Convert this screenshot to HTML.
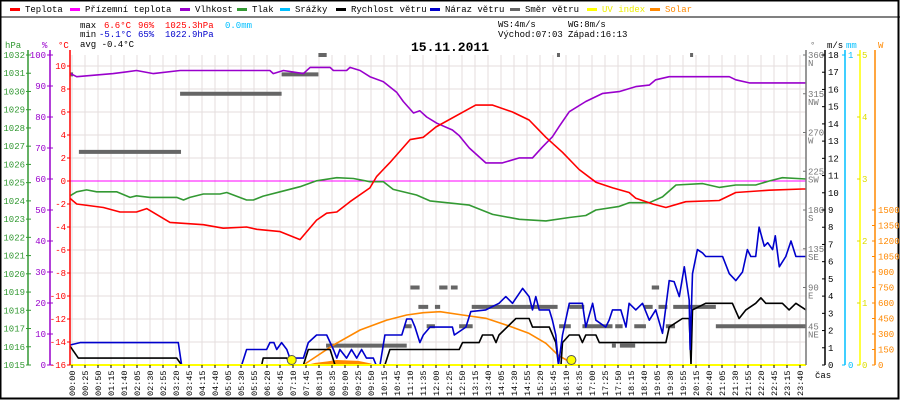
<!DOCTYPE html>
<html><head><meta charset="utf-8"><style>
html,body{margin:0;padding:0;background:#fff;}
svg{display:block;font-family:"Liberation Mono","DejaVu Sans Mono",monospace;}
</style></head><body>
<svg id="chart" width="900" height="400" viewBox="0 0 900 400" xmlns="http://www.w3.org/2000/svg">
<rect x="0.5" y="0.5" width="898" height="398" fill="#fff" stroke="#000" stroke-width="2"/>
<line x1="0" y1="17" x2="900" y2="17" stroke="#000" stroke-width="1"/>
<g id="legend" font-size="9"></g>
<g font-size="9">
<text x="80" y="28">max</text>
<text x="104" y="28" fill="#f00">6.6°C</text>
<text x="138" y="28" fill="#f00">96%</text>
<text x="165" y="28" fill="#f00">1025.3hPa</text>
<text x="225" y="28" fill="#00bfff">0.0mm</text>
<text x="80" y="37">min</text>
<text x="99" y="37" fill="#00c">-5.1°C</text>
<text x="138" y="37" fill="#00c">65%</text>
<text x="165" y="37" fill="#00c">1022.9hPa</text>
<text x="80" y="47">avg -0.4°C</text>
<text x="498" y="27">WS:4m/s</text>
<text x="568" y="27">WG:8m/s</text>
<text x="498" y="37">Východ:07:03</text>
<text x="568" y="37">Západ:16:13</text>
</g>
<text x="450" y="51" text-anchor="middle" font-size="13" font-weight="bold">15.11.2011</text>
<g id="grid"></g>
<g id="series"></g>
<g id="axes" font-size="9"></g>
</svg>
<script>
// ---- data ----
const xLabels=["00:00","00:25","00:50","01:15","01:40","02:05","02:30","02:55","03:20","03:45","04:15","04:40","05:05","05:30","05:55","06:20","06:45","07:10","07:45","08:10","08:35","09:00","09:25","09:50","10:15","10:45","11:10","11:35","12:00","12:25","12:50","13:15","13:40","14:05","14:30","14:55","15:20","15:45","16:10","16:35","17:00","17:25","17:50","18:15","18:40","19:05","19:30","19:55","20:15","20:40","21:05","21:30","21:55","22:20","22:45","23:15","23:40"];
const tempH=[0,.22,1.09,1.63,2.17,2.5,3.26,4.35,5.0,5.76,6.09,6.85,7.5,8.04,8.37,8.7,9.13,9.78,10.0,10.43,11.09,11.52,11.93,13.02,13.23,13.78,14.43,14.97,15.52,16.06,16.6,17.15,17.7,18.23,18.45,19.0,19.43,20.08,21.17,21.71,22.8,23.89,24];
const tempV=[-1.5,-2,-2.3,-2.7,-2.7,-2.4,-3.6,-3.8,-4.1,-4.0,-4.2,-4.4,-5.1,-3.4,-2.8,-2.7,-1.8,-0.6,0.4,1.6,3.6,3.8,4.7,6.3,6.6,6.6,6.0,5.3,3.8,2.5,1.0,-0.1,-0.6,-1.0,-1.5,-2.0,-2.3,-1.8,-1.7,-1.0,-0.8,-0.7,-0.7];
const humH=[0,.22,1.41,2.17,2.72,3.59,6.52,6.63,6.96,7.61,7.83,8.48,8.59,9.02,9.13,9.46,9.78,10.22,10.65,10.87,11.2,11.41,11.63,11.96,12.47,12.69,13.02,13.56,14.1,14.65,15.08,15.41,15.73,15.95,16.28,16.82,17.37,17.91,18.45,18.89,19.1,19.54,21.5,21.71,22.15,24];
const humV=[94.1,93,94,95,94,95,95,94,95,94,96,96,95,95,96,95,93,91.4,88,85,81.3,82,80,78,75.8,74,70,65.2,65.2,66.8,66.8,70.4,73.6,76.9,81.7,85,87.6,88.2,89.8,90.3,92,93,93,92,91,91];
const pressH=[0,.22,.54,.87,1.52,1.96,2.17,2.61,3.48,3.7,3.91,4.35,4.89,5.11,5.76,5.98,6.3,6.85,7.5,8.04,8.7,9.24,9.78,10.22,10.54,11.3,11.74,13.02,13.78,14.65,15.52,16.28,16.82,17.15,17.91,18.23,18.89,19.32,19.76,20.63,21.17,21.71,22.36,22.8,23.23,24];
const pressV=[1024.28,1024.5,1024.6,1024.5,1024.5,1024.19,1024.28,1024.19,1024.19,1024.05,1024.19,1024.38,1024.38,1024.46,1024.05,1024.05,1024.26,1024.5,1024.78,1025.1,1025.27,1025.23,1025.05,1025.05,1024.63,1024.32,1024.0,1023.77,1023.26,1022.99,1022.9,1023.09,1023.2,1023.5,1023.7,1023.9,1023.9,1024.22,1024.87,1024.95,1024.74,1024.87,1024.87,1025.09,1025.27,1025.2];
const windH=[0,.27,3.48,3.64,6.25,6.3,7.07,7.23,7.61,7.77,8.48,8.64,10.27,10.43,12.69,12.8,13.34,13.45,13.78,13.89,13.99,14.54,14.97,15.08,15.63,15.84,15.93,16.01,16.06,16.28,16.6,16.71,16.82,17.15,17.26,19.43,19.54,19.97,20.19,20.25,20.3,20.73,21.6,21.82,22.04,22.36,22.53,22.69,23.23,23.45,23.67,24];
const windV=[1.1,0.4,0.4,0,0,0.4,0.4,0,0,0.9,0.9,0,0,0.9,0.9,1.3,1.3,1.74,1.74,1.3,1.74,2.7,2.7,2.2,2.2,1.3,0,0,1.3,1.74,1.74,1.3,1.74,1.74,1.3,1.3,2.2,2.7,2.7,0,3.2,3.58,3.58,2.7,3.2,3.58,3.9,3.58,3.58,3.2,3.58,3.2];
const gustH=[0,.33,3.53,3.64,5.6,5.76,6.41,6.52,6.65,6.74,6.9,7.07,7.17,7.61,7.77,8.04,8.37,8.59,8.7,8.8,9.02,9.18,9.35,9.51,9.67,9.89,9.98,10.11,10.27,10.82,10.98,11.14,11.25,11.41,11.52,11.74,11.93,12.47,12.53,12.91,13.07,13.56,13.99,14.21,14.43,14.76,14.97,15.08,15.19,15.3,15.63,15.73,15.84,15.93,16.06,16.28,16.71,16.82,17.04,17.15,17.47,17.58,17.69,17.96,18.13,18.23,18.45,18.67,18.89,19.1,19.32,19.54,19.7,19.87,20.03,20.19,20.22,20.3,20.46,20.63,20.73,21.28,21.5,21.71,21.93,22.09,22.2,22.36,22.47,22.64,22.75,22.91,23.0,23.13,23.34,23.51,23.67,24];
const gustV=[1.16,1.3,1.3,0,0,0.9,0.9,1.3,1.3,0.9,1.3,0.9,0.4,0.4,1.3,1.74,1.74,0.9,0.4,0.9,0.4,0.9,0.4,0.9,0.4,0.4,0,0,1.74,1.74,2.67,2.67,2.2,1.3,1.74,2.2,2.2,2.2,1.74,2.2,3.1,3.2,3.58,3.97,3.58,4.45,3.97,3.2,3.97,3.2,3.2,2.6,1.74,0,1.74,3.58,3.58,2.2,3.58,2.6,2.2,2.6,3.2,3.2,2.2,3.58,3.2,3.58,2.6,3.2,1.84,4.9,4.84,3.97,5.7,3.77,0.9,5.3,6.7,6.5,6.3,6.3,5.3,4.9,5.4,6.7,6.3,6.3,8.0,6.9,7.1,6.7,7.5,5.7,6.3,7.2,6.3,6.3];
const dirStart=[0,0.29,3.59,6.9,8.1,8.35,11.1,11.36,11.9,10.92,11.63,12.04,12.42,18.97,13.1,16.28,18.72,19.19,19.67,12.69,15.95,16.71,17.78,18.4,19.43,21.06,17.67,17.93,15.88,20.22];
const dirEnd=[0.1,3.62,6.9,8.1,8.37,10.98,11.4,11.68,12.07,11.14,11.9,12.31,12.64,19.21,15.9,16.77,19.0,19.48,21.06,13.13,16.33,17.69,18.02,18.78,19.73,24,17.8,18.43,15.96,20.3];
const dirDeg=[337.5,247.5,315,337.5,360,22.5,90,67.5,67.5,45,45,90,90,90,67.5,67.5,67.5,67.5,67.5,45,45,45,45,45,45,45,22.5,22.5,360,360];
const solarH=[7.61,8.59,9.46,10.33,10.98,11.52,12.07,12.8,13.56,14.32,14.97,15.52,15.95,16.5];
const solarV=[0,193,339,435,484,506,516,484,452,377,306,210,87,0];
const solarActH=[7.7,8.0,8.4,8.7,9.0,9.4,9.8,9.95];
const solarActV=[0,20,35,48,45,40,15,0];
const sunMarkH=[7.23,16.35];

// ---- scales ----
const X0=70,X1=806,YB=365;
const xh=h=>X0+h*(X1-X0)/24;
const yT=t=>YB-(t+16)*11.5;
const yP=p=>YB-p*3.1;
const yHPa=p=>YB-(p-1015)*310/17;
const yW=v=>YB-v*310/18;
const yD=d=>YB-d*310/360;
const ySol=w=>YB-w*155/1500;
const yUV=u=>YB-u*62;

const NS='http://www.w3.org/2000/svg';
function mk(tag,attrs,parent){const e=document.createElementNS(NS,tag);for(const k in attrs)e.setAttribute(k,attrs[k]);parent.appendChild(e);return e;}
const grid=document.getElementById('grid'),ser=document.getElementById('series'),ax=document.getElementById('axes'),leg=document.getElementById('legend');

const legItems=[["Teplota","#f00",10],["Přízemní teplota","#f0f",70],["Vlhkost","#90c",180],["Tlak","#393",237],["Srážky","#00bfff",280],["Rychlost větru","#000",336],["Náraz větru","#00c",430],["Směr větru","#666",510],["UV index","#ff0",587],["Solar","#f80",650]];
legItems.forEach(it=>{
  const r=mk('rect',{x:it[2],y:8,width:10,height:3,fill:it[1]},leg);
  
  
  const t=mk('text',{x:it[2]+15,y:12,fill:it[1]==='#ff0'?'#ee0':(it[1]==='#f80'?'#f80':'#000')},leg);
  t.textContent=it[0];
  
  
});

for(let t=-16;t<=10;t+=2){const l=mk('line',{x1:X0,x2:X1,y1:yT(t),y2:yT(t),stroke:'#e4dede','stroke-width':1},grid);

}
xLabels.forEach((lab,i)=>{const x=72+i*13;
 const l=mk('line',{x1:x,x2:x,y1:55,y2:YB,stroke:'#e4dede','stroke-width':1},grid);
 
 
 const tk=mk('line',{x1:x,x2:x,y1:YB,y2:YB+3,stroke:'#000'},ax);
 
 
 const t=mk('text',{x:0,y:0,transform:`translate(${x+3},396) rotate(-90)`,'font-size':8.5},ax);
 t.textContent=lab;
 
 
});

function line(H,V,ys,color,w,name){
 const pts=H.map((h,i)=>xh(h).toFixed(1)+','+ys(V[i]).toFixed(1)).join(' ');
 const p=mk('polyline',{points:pts,fill:'none',stroke:color,'stroke-width':w,'stroke-linejoin':'round'},ser);
 
 
}
const z=mk('line',{x1:X0,x2:X1,y1:yT(0),y2:yT(0),stroke:'#f0f','stroke-width':1},ser);


dirDeg.forEach((d,i)=>{const r=mk('rect',{x:xh(dirStart[i]),y:yD(d)-2,width:Math.max(3,xh(dirEnd[i])-xh(dirStart[i])),height:4,fill:'#666'},ser);
 
 });
{const pts=solarActH.map((h,i)=>xh(h).toFixed(1)+','+ySol(solarActV[i]).toFixed(1)).join(' ');
 const p=mk('polygon',{points:pts,fill:'#f80'},ser);
 
 }
line(solarH,solarV,ySol,'#f80',1.6,'solar-line');
line(pressH,pressV,yHPa,'#393',1.6,'pressure-line');
line(humH,humV,yP,'#90c',1.6,'humidity-line');
line(tempH,tempV,yT,'#f00',1.6,'temperature-line');
line(windH,windV,yW,'#000',1.6,'wind-speed-line');
line(gustH,gustV,yW,'#00c',1.6,'wind-gust-line');
const uv=mk('line',{x1:X0,x2:X1,y1:YB,y2:YB,stroke:'#ff0','stroke-width':2},ser);


sunMarkH.forEach(h=>{const c=mk('circle',{cx:xh(h),cy:360,r:4.5,fill:'#ff0',stroke:'#555','stroke-width':1},ser);
 
 });

function vaxis(x,color,name){const l=mk('line',{x1:x,x2:x,y1:50,y2:YB,stroke:color,'stroke-width':1.5},ax);
 
 }
function lab(x,y,txt,color,anchor,name){const t=mk('text',{x:x,y:y,fill:color,'text-anchor':anchor||'start'},ax);t.textContent=txt;
 
 }
function tick(x1,x2,y,color){const l=mk('line',{x1:x1,x2:x2,y1:y,y2:y,stroke:color},ax);
 
 }
vaxis(28,'#393','pressure-axis');vaxis(50,'#90c','humidity-axis');vaxis(70,'#f00','temperature-axis');
lab(5,48,'hPa','#393','start','pressure-axis-title');lab(42,48,'%','#90c','start','humidity-axis-title');lab(58,48,'°C','#f00','start','temperature-axis-title');
for(let p=1015;p<=1032;p++){tick(26,31,yHPa(p),'#393');lab(25,yHPa(p)+3,String(p),'#393','end','pressure-tick-label');}
for(let p=0;p<=100;p+=10){tick(47,53,yP(p),'#90c');lab(46,yP(p)+3,String(p),'#90c','end','humidity-tick-label');}
for(let t=-16;t<=10;t+=2){tick(67,70,yT(t),'#f00');lab(66,yT(t)+3,String(t),'#f00','end','temperature-tick-label');}
vaxis(806,'#777','direction-axis');vaxis(825,'#000','wind-axis');vaxis(845,'#00bfff','rain-axis');vaxis(860,'#ff0','uv-axis');vaxis(875,'#f80','solar-axis');
lab(810,48,'°','#777','start','direction-axis-title');lab(827,48,'m/s','#000','start','wind-axis-title');lab(846,48,'mm','#00bfff','start','rain-axis-title');lab(878,48,'W','#f80','start','solar-axis-title');
const dirNames=['','NE','E','SE','S','SW','W','NW','N'];
for(let k=1;k<=8;k++){const d=k*45;tick(803,806,yD(d),'#777');lab(808,yD(d)+3,String(d),'#777','start','direction-tick-label');lab(808,yD(d)+11,dirNames[k],'#777','start','direction-name-label');}
for(let v=0;v<=18;v++){tick(822,825,yW(v),'#000');lab(828,yW(v)+3,String(v),'#000','start','wind-tick-label');}
tick(842,845,YB,'#00bfff');tick(842,845,55,'#00bfff');lab(848,YB+3,'0','#00bfff','start','rain-tick-label');lab(848,58,'1','#00bfff','start','rain-tick-label');
for(let u=0;u<=5;u++){tick(857,860,yUV(u),'#dd0');lab(862,yUV(u)+3,String(u),'#dd0','start','uv-tick-label');}
for(let w=0;w<=1500;w+=150){tick(872,875,ySol(w),'#f80');lab(878,ySol(w)+3,String(w),'#f80','start','solar-tick-label');}
lab(815,378,'čas','#000','start','x-axis-title');
</script>
</body></html>
